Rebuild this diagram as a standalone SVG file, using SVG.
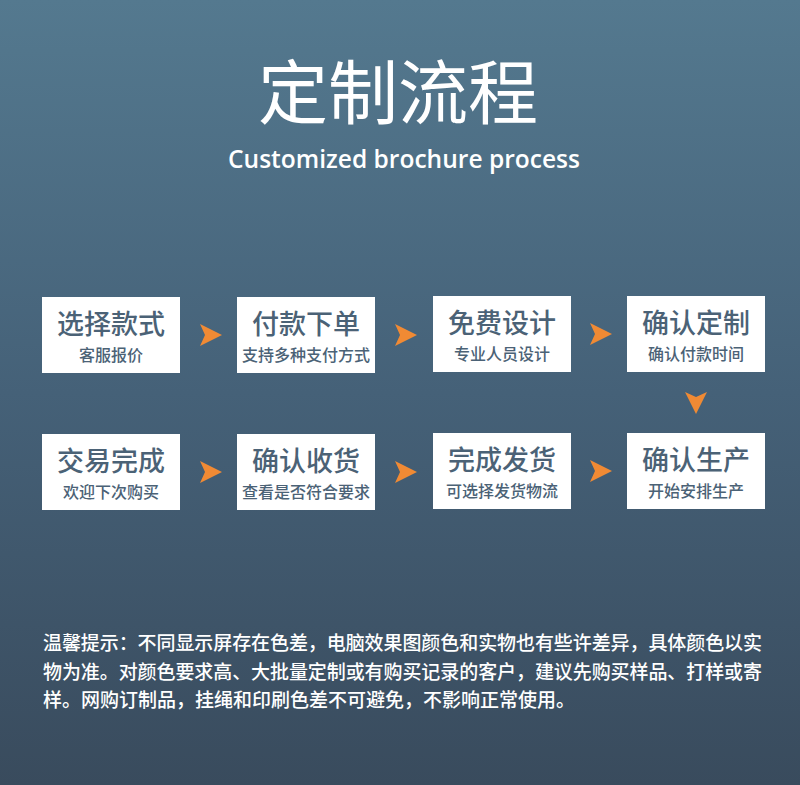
<svg xmlns="http://www.w3.org/2000/svg" width="800" height="785" viewBox="0 0 800 785">
<defs>
<linearGradient id="bg" x1="0" y1="0" x2="0" y2="1">
<stop offset="0" stop-color="#54798f"/>
<stop offset="0.5" stop-color="#456178"/>
<stop offset="1" stop-color="#394b5d"/>
</linearGradient>
<style>
.box{fill:#ffffff}
.t{font-family:"Noto Sans CJK SC","Noto Sans",sans-serif;fill:#4b6276;text-anchor:middle;font-weight:500}
.h{font-size:27px}
.s{font-size:16px}
.arr{fill:#f08a34}
.note{font-family:"Noto Sans CJK SC",sans-serif;font-size:19px;fill:#ffffff;font-weight:500}
</style>
<path id="ar" d="M0,-11 L22,0 L0,11 L5,0 Z"/>
<path id="ad" d="M-11,0 L0,22 L11,0 L0,5 Z"/>
</defs>
<rect width="800" height="785" fill="url(#bg)"/>
<text x="398" y="119" font-family="Noto Sans CJK SC,sans-serif" font-size="70" fill="#ffffff" text-anchor="middle">定制流程</text>
<text x="228" y="168" font-family="Open Sans,sans-serif" font-size="25.5" font-weight="600" fill="#ffffff" textLength="352" lengthAdjust="spacingAndGlyphs">Customized brochure process</text>

<g id="n1"><rect class="box" x="42" y="297" width="138" height="76"/><text class="t h" x="111" y="334">选择款式</text><text class="t s" x="111" y="361">客服报价</text></g>
<g id="n2"><rect class="box" x="237" y="297" width="138" height="76"/><text class="t h" x="306" y="334">付款下单</text><text class="t s" x="306" y="361">支持多种支付方式</text></g>
<g id="n3"><rect class="box" x="433" y="296" width="138" height="76"/><text class="t h" x="502" y="333">免费设计</text><text class="t s" x="502" y="360">专业人员设计</text></g>
<g id="n4"><rect class="box" x="627" y="296" width="138" height="76"/><text class="t h" x="696" y="333">确认定制</text><text class="t s" x="696" y="360">确认付款时间</text></g>
<g id="n5"><rect class="box" x="627" y="433" width="138" height="76"/><text class="t h" x="696" y="470">确认生产</text><text class="t s" x="696" y="497">开始安排生产</text></g>
<g id="n6"><rect class="box" x="433" y="433" width="138" height="76"/><text class="t h" x="502" y="470">完成发货</text><text class="t s" x="502" y="497">可选择发货物流</text></g>
<g id="n7"><rect class="box" x="237" y="434" width="138" height="76"/><text class="t h" x="306" y="471">确认收货</text><text class="t s" x="306" y="498">查看是否符合要求</text></g>
<g id="n8"><rect class="box" x="42" y="434" width="138" height="76"/><text class="t h" x="111" y="471">交易完成</text><text class="t s" x="111" y="498">欢迎下次购买</text></g>

<g id="connectors">
<use href="#ar" class="arr" x="200" y="335"/>
<use href="#ar" class="arr" x="395" y="335"/>
<use href="#ar" class="arr" x="590" y="334"/>
<use href="#ad" class="arr" x="696" y="392"/>
<use href="#ar" class="arr" x="590" y="471"/>
<use href="#ar" class="arr" x="395" y="472"/>
<use href="#ar" class="arr" x="200" y="472"/>
</g>

<text class="note" x="43" y="650" textLength="719">温馨提示：不同显示屏存在色差，电脑效果图颜色和实物也有些许差异，具体颜色以实</text>
<text class="note" x="43" y="679" textLength="719">物为准。对颜色要求高、大批量定制或有购买记录的客户，建议先购买样品、打样或寄</text>
<text class="note" x="43" y="707">样。网购订制品，挂绳和印刷色差不可避免，不影响正常使用。</text>
</svg>
